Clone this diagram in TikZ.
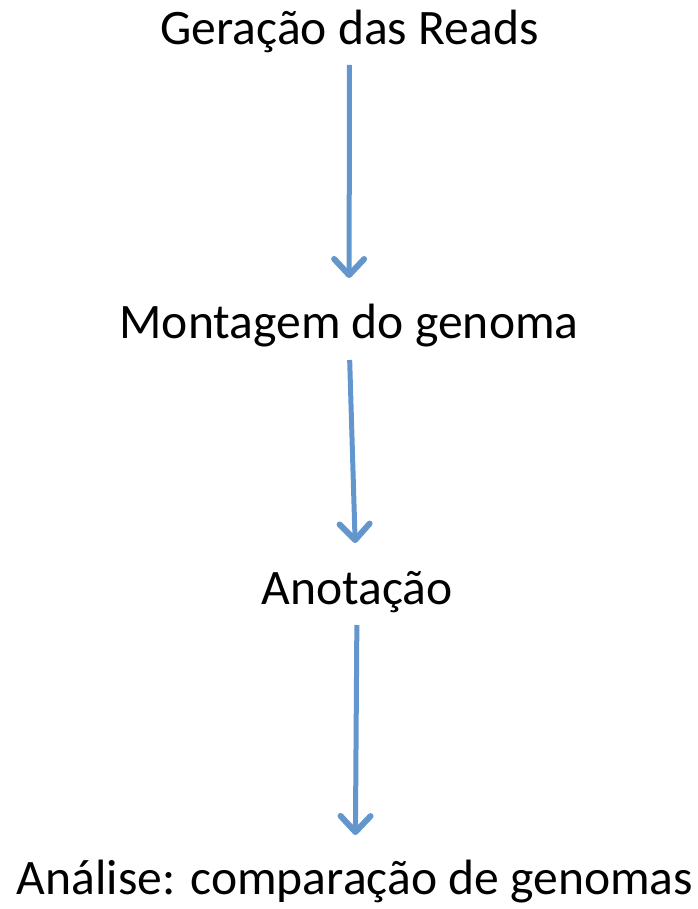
\documentclass[tikz,border=0pt]{standalone}
\usepackage{fontspec}
\setmainfont{Carlito}
\usetikzlibrary{arrows.meta}
\definecolor{arrowblue}{RGB}{100,150,206}
\tikzset{
  lbl/.style={anchor=base, inner sep=0pt, font=\fontsize{49.6}{58}\selectfont},
  arr/.style={draw=arrowblue, line width=5pt, -{Straight Barb[length=16pt, width=30pt, line width=6pt, round]}}
}
\begin{document}
\begin{tikzpicture}[x=1pt, y=-1pt]
\useasboundingbox (0,0) rectangle (697,909);
\node[lbl] (g) at (349.5,45) {Geração das Reads};
\node[lbl] (m) at (349,338) {Montagem do genoma};
\node[lbl] (a) at (357,604) {Anotação};
\node[lbl] (c) at (355,894) {Análise: comparação de genomas};
\draw[arr, shorten <=20pt, shorten >=60pt] (g.base) -- (m.base);
\draw[arr, shorten <=22pt, shorten >=61pt] (m.base) -- (a.base);
\draw[arr, shorten <=21pt, shorten >=59pt] (a.base) -- (c.base);
\end{tikzpicture}
\end{document}
